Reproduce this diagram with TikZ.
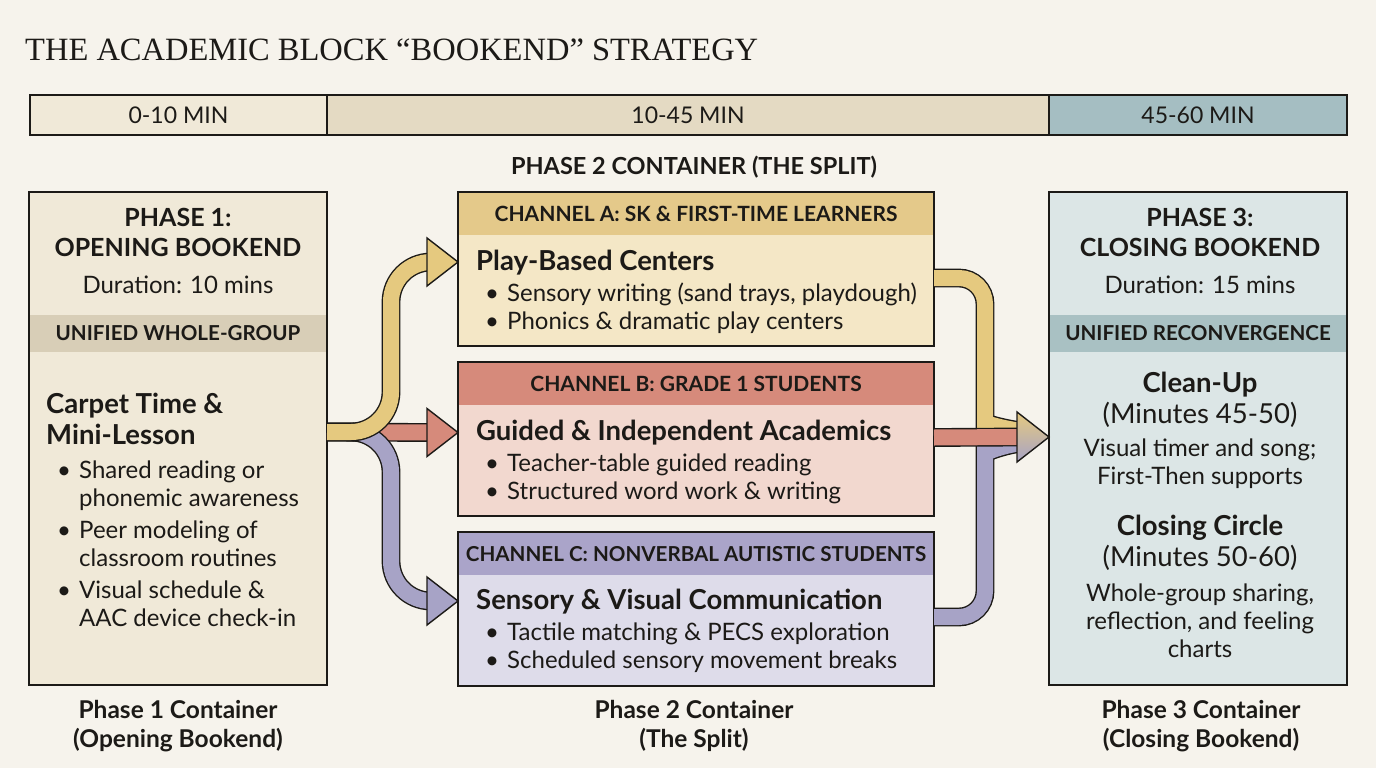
\documentclass[tikz,border=0pt]{standalone}
\usepackage{fontspec}
\setmainfont{Lato}
\newfontfamily\titlefont{Liberation Serif}
\usetikzlibrary{positioning}
\usetikzlibrary{calc}

\definecolor{bg}{HTML}{F6F3EC}
\definecolor{ink}{HTML}{1C1A17}
\definecolor{creamA}{HTML}{F0E9D8}
\definecolor{creamB}{HTML}{D8CEB7}
\definecolor{tanbar}{HTML}{E4DAC3}
\definecolor{tealbar}{HTML}{A5BEC2}
\definecolor{ylwhd}{HTML}{E4C98A}
\definecolor{ylwbd}{HTML}{F4E7C6}
\definecolor{redhd}{HTML}{D68A7B}
\definecolor{redbd}{HTML}{F2D8CF}
\definecolor{purhd}{HTML}{AAA4C9}
\definecolor{purbd}{HTML}{DEDCEA}
\definecolor{bluebd}{HTML}{DCE6E6}
\definecolor{bluehd}{HTML}{A9C1C3}
\definecolor{ylwar}{HTML}{E5C97F}
\definecolor{redar}{HTML}{D68A7B}
\definecolor{purar}{HTML}{A7A3C6}

\tikzset{box/.style={draw=ink, line width=1.4pt, inner sep=0pt, outer sep=0pt, anchor=north west}}
\tikzset{band/.style={inner sep=0pt, outer sep=0pt, anchor=north west, font=\bfseries\fontsize{20.6}{22}\selectfont, text=ink}}
\tikzset{seg/.style={box, minimum height=40, font=\fontsize{23}{25}\selectfont, text=ink}}
\tikzset{hd/.style={align=center, anchor=base, font=\bfseries\fontsize{25}{30}\selectfont, text=ink}}
\tikzset{sub/.style={align=center, anchor=base, font=\bfseries\fontsize{27.5}{31}\selectfont, text=ink}}
\tikzset{ttl/.style={anchor=base west, align=left, font=\bfseries\fontsize{27.5}{31}\selectfont, text=ink}}
\tikzset{txt/.style={align=center, anchor=base, font=\fontsize{24}{28}\selectfont, text=ink}}
\tikzset{lst/.style={anchor=base west, align=left, inner sep=0pt, font=\fontsize{24}{28}\selectfont, text=ink}}
\tikzset{capt/.style={align=center, anchor=base, font=\bfseries\fontsize{24.5}{29}\selectfont, text=ink}}
\tikzset{fat/.style={draw=ink, line width=1.4pt, double=#1, double distance=16pt}}
\tikzset{head/.style={fill=#1, draw=ink, line width=1.4pt, line join=miter}}

\newcommand\itm{\makebox[22pt][l]{\textbullet}}
\newcommand\cnt{\hspace*{22pt}}

\begin{document}
\begin{tikzpicture}[x=1pt, y=-1pt]
        \fill[bg] (0,0) rectangle (1376,768);
        \useasboundingbox (0,0) rectangle (1376,768);

        \node[anchor=base west, inner sep=0pt, font=\titlefont\fontsize{32.5}{33}\selectfont, text=ink] (title) at (25,60) {THE ACADEMIC BLOCK “BOOKEND” STRATEGY};

        % timeline
        \node[seg, fill=creamA, minimum width=297] (t1) at (30,95) {0-10 MIN};
        \node[seg, fill=tanbar, minimum width=722, right=0pt of t1] (t2) {10-45 MIN};
        \node[seg, fill=tealbar, minimum width=298, right=0pt of t2] (t3) {45-60 MIN};

        \node[capt, font=\bfseries\fontsize{23.5}{25}\selectfont] (split-lbl) at (694,174) {PHASE 2 CONTAINER (THE SPLIT)};

        % containers
        \node[box, fill=creamA, minimum width=298, minimum height=493] (ph1) at (29,192) {};
        \node[box, fill=ylwbd, minimum width=476, minimum height=154, right=131pt of ph1.north east, anchor=north west] (chA) {};
        \node[box, fill=redbd, minimum width=476, minimum height=154, below=16pt of chA] (chB) {};
        \node[box, fill=purbd, minimum width=476, minimum height=154, below=16pt of chB] (chC) {};
        \node[box, fill=bluebd, minimum width=298, minimum height=493, right=115pt of chA.north east, anchor=north west] (ph3) {};

        % header bands
        \node[band, fill=creamB, minimum width=296.6, minimum height=37] (b1) at ([shift={(0.7pt,-123pt)}]ph1.north west) {UNIFIED WHOLE-GROUP};
        \node[band, fill=bluehd, minimum width=296.6, minimum height=37] (b3) at ([shift={(0.7pt,-123pt)}]ph3.north west) {UNIFIED RECONVERGENCE};
        \node[band, fill=ylwhd, minimum width=474.6, minimum height=42, font=\bfseries\fontsize{21}{22}\selectfont] (hA) at ([shift={(0.7pt,-0.7pt)}]chA.north west) {CHANNEL A: SK \& FIRST-TIME LEARNERS};
        \node[band, fill=redhd, minimum width=474.6, minimum height=42, font=\bfseries\fontsize{21}{22}\selectfont] (hB) at ([shift={(0.7pt,-0.7pt)}]chB.north west) {CHANNEL B: GRADE 1 STUDENTS};
        \node[band, fill=purhd, minimum width=474.6, minimum height=42, font=\bfseries\fontsize{20.6}{22}\selectfont] (hC) at ([shift={(0.7pt,-0.7pt)}]chC.north west) {CHANNEL C: NONVERBAL AUTISTIC STUDENTS};
        \draw[box] (ph1.north west) rectangle (ph1.south east);
        \draw[box] (ph3.north west) rectangle (ph3.south east);
        \foreach \c in {chA,chB,chC} \draw[box] (\c.north west) rectangle (\c.south east);

        % phase 1 text (base = last line)
        \node[hd] (p1t) at (178,256) {PHASE 1:\\OPENING BOOKEND};
        \node[txt] (p1d) at (178,293) {Duration: 10 mins};
        \node[ttl, inner sep=0pt] (p1s) at (46,444) {Carpet Time \&\\Mini-Lesson};
        \node[lst] (p1l) at (57,626) {\itm Shared reading or\\\cnt phonemic awareness\\[4pt]\itm Peer modeling of\\\cnt classroom routines\\[4pt]\itm Visual schedule \&\\\cnt AAC device check-in};

        % channel text
        \node[ttl, inner sep=0pt] (aT) at (476,270) {Play-Based Centers};
        \node[lst] (aL) at (485,329) {\itm Sensory writing (sand trays, playdough)\\\itm Phonics \& dramatic play centers};
        \node[ttl, inner sep=0pt] (bT) at (476,440) {Guided \& Independent Academics};
        \node[lst] (bL) at (485,499) {\itm Teacher-table guided reading\\\itm Structured word work \& writing};
        \node[ttl, inner sep=0pt] (cT) at (476,609) {Sensory \& Visual Communication};
        \node[lst] (cL) at (485,668) {\itm Tactile matching \& PECS exploration\\\itm Scheduled sensory movement breaks};

        % phase 3 text
        \node[hd] (p3t) at (1200,256) {PHASE 3:\\CLOSING BOOKEND};
        \node[txt] (p3d) at (1200,293) {Duration: 15 mins};
        \node[sub] (p3a) at (1200,423) {Clean-Up\\\mdseries(Minutes 45-50)};
        \node[txt] (p3b) at (1200,484) {Visual timer and song;\\First-Then supports};
        \node[sub] (p3c) at (1200,566) {Closing Circle\\\mdseries(Minutes 50-60)};
        \node[txt] (p3e) at (1200,657) {Whole-group sharing,\\reflection, and feeling\\charts};

        % captions
        \node[capt] (c1) at (178,747) {Phase 1 Container\\(Opening Bookend)};
        \node[capt] (c2) at (694,747) {Phase 2 Container\\(The Split)};
        \node[capt] (c3) at (1201,747) {Phase 3 Container\\(Closing Bookend)};

        % split arrows
        \coordinate (split) at ([yshift=6.5pt]ph1.east);
        \coordinate (tipA) at ([yshift=7pt]chA.west);
        \coordinate (tipB) at ([yshift=6.5pt]chB.west);
        \coordinate (tipC) at ([yshift=8pt]chC.west);
        \draw[fat=redar] (split) -- ($(tipB)+(-29,0)$);
        \draw[fat=purar, rounded corners=40pt] (split) -| ($(tipC)+(-67,0)$) [rounded corners=26pt] -- ($(tipC)+(-29,0)$);
        \draw[fat=ylwar, rounded corners=40pt] (split) -| ($(tipA)+(-67,0)$) [rounded corners=26pt] -- ($(tipA)+(-29,0)$);
        \foreach \t/\c in {tipA/ylwar, tipB/redar, tipC/purar}
          \draw[head=\c] ($(\t)+(-31,-24)$) -- (\t) -- ($(\t)+(-31,24)$) -- cycle;

        % merge arrows
        \coordinate (tipD) at ([yshift=1.5pt]ph3.west);
        \draw[fat=ylwar, rounded corners=26pt] ([yshift=-9pt]chA.east) -| (985,398) [sharp corners] .. controls (985,422) and (998,428) .. (1022,431);
        \draw[fat=purar, rounded corners=26pt] ([yshift=-8pt]chC.east) -| (985,478) [sharp corners] .. controls (985,454) and (998,446) .. (1022,443);
        \draw[fat=redar] ([yshift=1.5pt]chB.east) -- ($(tipD)+(-30,0)$);
        \draw[head=redar, top color=ylwar, middle color=redar, bottom color=purar] ($(tipD)+(-32,-25)$) -- (tipD) -- ($(tipD)+(-32,25)$) -- cycle;
\end{tikzpicture}
\end{document}
